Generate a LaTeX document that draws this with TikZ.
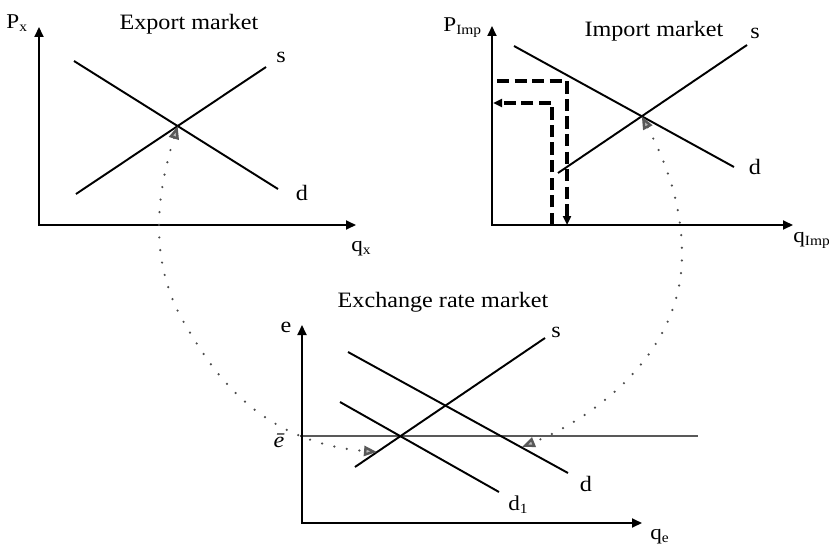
\documentclass[tikz,border=0pt]{standalone}
\usepackage{fontspec}
\setmainfont{Liberation Serif}[FakeStretch=1.1]
\usepackage{tikz}
\usetikzlibrary{arrows.meta}

\begin{document}
\begin{tikzpicture}[
    x=0.02cm, y=-0.02cm,
    every node/.style={font=\fontsize{12.5}{15}\selectfont, inner sep=0pt},
    ttl/.style={anchor=base},
    crvlbl/.style={anchor=base},
    axlbl/.style={anchor=base west, font=\fontsize{12}{14}\selectfont},
    axis/.style={{Triangle[length=0.2cm, width=0.18cm]}-{Triangle[length=0.2cm, width=0.18cm]}, line width=1.1pt},
    schedule/.style={line width=1.1pt},
    eline/.style={gray!70!black, line width=0.7pt},
    guide/.style={-{Triangle[length=0.18cm, width=0.16cm]}, line width=2pt, dash pattern=on 7pt off 3pt},
    link/.style={{Triangle[length=0.26cm, width=0.2cm, fill=gray!55, color=gray!70!black]}-{Triangle[length=0.26cm, width=0.2cm, fill=gray!55, color=gray!70!black]},
                 black!70, line width=1.4pt, line cap=round, dash pattern=on 0pt off 7.2pt}
]
\useasboundingbox (0,0) rectangle (829,548);

% --- Export market ---
\coordinate (xo)   at (39,225);
\coordinate (xtop) at (39,27);
\coordinate (xend) at (356,225);
\coordinate (xd1) at (74,61);  \coordinate (xd2) at (278,189);
\coordinate (xs1) at (76,194); \coordinate (xs2) at (266,67);
\coordinate (xeq) at (intersection of xd1--xd2 and xs1--xs2);

\draw[axis] (xtop) -- (xo) -- (xend);
\draw[schedule] (xd1) -- (xd2);
\draw[schedule] (xs1) -- (xs2);

\node[ttl]    (xttl) at (189,29)  {Export market};
\node[axlbl]  (xpl)  at (6,28)    {P\textsubscript{x}};
\node[axlbl]  (xql)  at (351,251) {q\textsubscript{x}};
\node[crvlbl] (xsl)  at (281,62)  {s};
\node[crvlbl] (xdl)  at (302,200) {d};

% --- Import market ---
\coordinate (io)   at (492,225);
\coordinate (itop) at (492,26);
\coordinate (iend) at (793,225);
\coordinate (id1) at (514,46);  \coordinate (id2) at (734,167);
\coordinate (is1) at (558,173); \coordinate (is2) at (747,45);
\coordinate (ieq) at (intersection of id1--id2 and is1--is2);

\draw[axis] (itop) -- (io) -- (iend);
\draw[schedule] (id1) -- (id2);
\draw[schedule] (is1) -- (is2);

% dashed guides
\coordinate (ga1) at (497,81);  \coordinate (ga2) at (567,81);  \coordinate (ga3) at (567,225);
\coordinate (gb1) at (552,225); \coordinate (gb2) at (552,103); \coordinate (gb3) at (493,103);
\draw[guide] (ga1) -- (ga2) -- (ga3);
\draw[guide] (gb1) -- (gb2) -- (gb3);

\node[ttl]    (ittl) at (654,36)  {Import market};
\node[axlbl]  (ipl)  at (443,31)  {P\textsubscript{Imp}};
\node[axlbl]  (iql)  at (793,242) {q\textsubscript{Imp}};
\node[crvlbl] (isl)  at (755,38)  {s};
\node[crvlbl] (idl)  at (755,174) {d};

% --- Exchange rate market ---
\coordinate (eo)   at (302,523);
\coordinate (etop) at (302,325);
\coordinate (eend) at (642,523);
\coordinate (ed1) at (348,352); \coordinate (ed2) at (568,473);
\coordinate (en1) at (340,402); \coordinate (en2) at (499,492);
\coordinate (es1) at (355,467); \coordinate (es2) at (545,338);
\coordinate (eb1) at (300,436); \coordinate (eb2) at (698,436);

\draw[eline] (eb1) -- (eb2);
\draw[axis] (etop) -- (eo) -- (eend);
\draw[schedule] (ed1) -- (ed2);
\draw[schedule] (en1) -- (en2);
\draw[schedule] (es1) -- (es2);

\node[ttl]    (ettl) at (443,307) {Exchange rate market};
\node[crvlbl] (eel)  at (286,332) {e};
\node[crvlbl] (ebl)  at (279,447) {\textit{ē}};
\node[axlbl]  (eql)  at (650,539) {q\textsubscript{e}};
\node[crvlbl] (esl)  at (556,337) {s};
\node[crvlbl] (edl)  at (586,491) {d};
\node[axlbl]  (enl)  at (508,510) {d\textsubscript{1}};

% --- links between markets ---
\coordinate (lend) at (377,452);
\coordinate (rend) at (522,447);
\draw[link] (xeq) .. controls (158,190) and (146,260) .. (186,326)
                  .. controls (210,366) and (255,442) .. (lend);
\draw[link] (ieq) .. controls (670,170) and (682,210) .. (682,255)
                  .. controls (682,350) and (600,415) .. (rend);
\end{tikzpicture}
\end{document}
